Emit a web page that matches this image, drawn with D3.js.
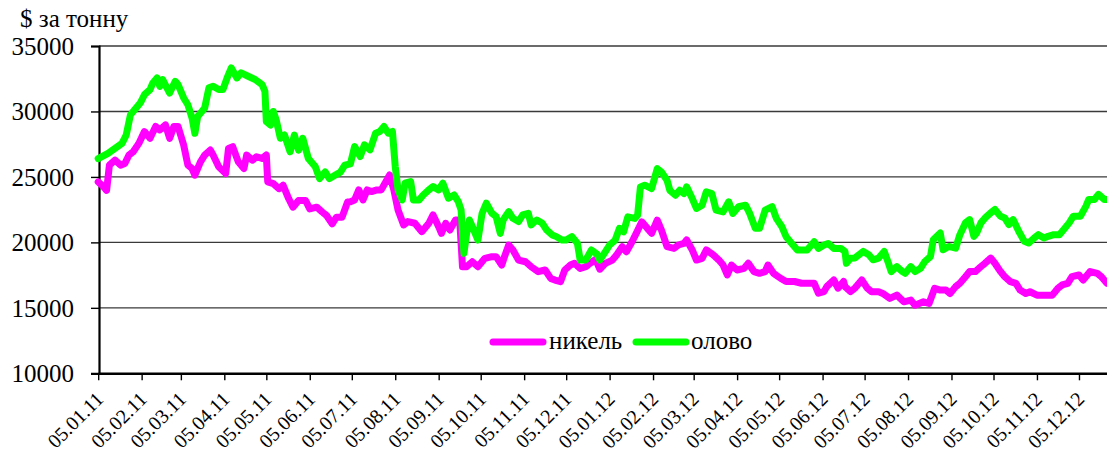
<!DOCTYPE html>
<html>
<head>
<meta charset="utf-8">
<script src="https://cdn.jsdelivr.net/npm/d3@7"></script>
<style>
html,body{margin:0;padding:0;background:#fff;}
svg{display:block;font-family:"Liberation Serif","Times New Roman",serif;}
</style>
</head>
<body>
<svg id="chart" width="1107" height="454"></svg>
<script>
const title = "$ за тонну";
const seriesNames = ["никель", "олово"];
const yTicks = [10000, 15000, 20000, 25000, 30000, 35000];
const xTickLabels = ["05.01.11","05.02.11","05.03.11","05.04.11","05.05.11","05.06.11","05.07.11","05.08.11","05.09.11","05.10.11","05.11.11","05.12.11",
  "05.01.12","05.02.12","05.03.12","05.04.12","05.05.12","05.06.12","05.07.12","05.08.12","05.09.12","05.10.12","05.11.12","05.12.12"];
const dateStart = "2011-01-05", dateEnd = "2012-12-25";

const nickel = [
["2011-01-05",24620],["2011-01-09",24230],["2011-01-11",23970],["2011-01-13",25900],["2011-01-17",26280],["2011-01-21",25900],
["2011-01-24",26020],["2011-01-27",26670],["2011-01-30",26920],["2011-02-03",27560],["2011-02-07",28460],["2011-02-11",27950],
["2011-02-15",28850],["2011-02-18",28590],["2011-02-22",28970],["2011-02-25",27950],["2011-02-28",28850],["2011-03-03",28850],
["2011-03-07",27440],["2011-03-10",25900],["2011-03-13",25640],["2011-03-15",25130],["2011-03-19",26150],["2011-03-22",26670],
["2011-03-26",27050],["2011-03-28",26670],["2011-04-01",25770],["2011-04-06",25260],["2011-04-08",27180],["2011-04-11",27310],
["2011-04-15",26150],["2011-04-19",25640],["2011-04-21",26670],["2011-04-25",26280],["2011-04-28",26540],["2011-05-02",26410],
["2011-05-05",26670],["2011-05-06",24620],["2011-05-10",24490],["2011-05-14",24100],["2011-05-17",24360],["2011-05-21",23330],
["2011-05-24",22690],["2011-05-28",23200],["2011-06-02",23200],["2011-06-05",22560],["2011-06-10",22690],["2011-06-14",22310],
["2011-06-17",22050],["2011-06-21",21410],["2011-06-24",21920],["2011-06-28",21920],["2011-06-29",22200],["2011-07-02",23080],
["2011-07-04",23110],["2011-07-07",23240],["2011-07-10",24010],["2011-07-13",23240],["2011-07-16",24010],["2011-07-19",23880],
["2011-07-23",24010],["2011-07-26",24010],["2011-07-30",24770],["2011-08-01",25150],["2011-08-04",24010],["2011-08-07",22480],
["2011-08-11",21330],["2011-08-14",21590],["2011-08-19",21460],["2011-08-24",20820],["2011-08-29",21460],["2011-09-01",22100],
["2011-09-05",21200],["2011-09-07",20690],["2011-09-10",21460],["2011-09-13",20950],["2011-09-17",21710],["2011-09-20",21710],
["2011-09-22",18140],["2011-09-25",18140],["2011-09-29",18520],["2011-10-03",18140],["2011-10-08",18780],["2011-10-13",18910],
["2011-10-16",18910],["2011-10-20",18270],["2011-10-22",18910],["2011-10-25",19800],["2011-10-28",19420],["2011-11-01",18650],
["2011-11-06",18520],["2011-11-10",18140],["2011-11-15",17760],["2011-11-20",17890],["2011-11-24",17250],["2011-11-27",17120],
["2011-12-01",17000],["2011-12-04",17890],["2011-12-08",18270],["2011-12-11",18400],["2011-12-15",18010],["2011-12-19",18140],
["2011-12-22",18400],["2011-12-26",18700],["2011-12-29",17950],["2012-01-02",18400],["2012-01-07",18650],["2012-01-10",19040],
["2012-01-14",19670],["2012-01-17",19290],["2012-01-21",20050],["2012-01-24",20690],["2012-01-28",21570],["2012-02-01",21070],
["2012-02-04",20690],["2012-02-08",21700],["2012-02-11",20940],["2012-02-15",19670],["2012-02-20",19540],["2012-02-23",19800],
["2012-02-27",19920],["2012-02-29",20180],["2012-03-04",19420],["2012-03-07",18650],["2012-03-11",18780],["2012-03-14",19420],
["2012-03-19",19040],["2012-03-23",18650],["2012-03-26",18270],["2012-03-29",17510],["2012-04-01",18270],["2012-04-05",17890],
["2012-04-10",18020],["2012-04-13",18400],["2012-04-17",17770],["2012-04-21",17640],["2012-04-25",17770],["2012-04-27",18270],
["2012-05-01",17640],["2012-05-06",17260],["2012-05-10",17010],["2012-05-16",17010],["2012-05-21",16880],["2012-05-26",16880],
["2012-05-30",16880],["2012-06-02",16120],["2012-06-06",16240],["2012-06-08",16620],["2012-06-13",17130],["2012-06-16",16500],
["2012-06-20",17010],["2012-06-21",16620],["2012-06-25",16240],["2012-06-28",16490],["2012-07-03",17130],["2012-07-07",16490],
["2012-07-10",16230],["2012-07-15",16230],["2012-07-18",16100],["2012-07-23",15720],["2012-07-28",15970],["2012-08-02",15460],
["2012-08-07",15590],["2012-08-10",15200],["2012-08-16",15460],["2012-08-20",15330],["2012-08-24",16490],["2012-08-28",16360],
["2012-09-01",16360],["2012-09-04",16100],["2012-09-08",16620],["2012-09-11",16870],["2012-09-15",17380],["2012-09-18",17770],
["2012-09-22",17770],["2012-09-26",18150],["2012-09-29",18410],["2012-10-03",18800],["2012-10-06",18410],["2012-10-10",17770],
["2012-10-13",17380],["2012-10-17",17000],["2012-10-21",16870],["2012-10-24",16360],["2012-10-28",16100],["2012-10-31",16230],
["2012-11-05",15970],["2012-11-10",15970],["2012-11-16",15970],["2012-11-20",16490],["2012-11-23",16750],["2012-11-27",16870],
["2012-11-30",17380],["2012-12-05",17510],["2012-12-08",17130],["2012-12-13",17770],["2012-12-18",17640],["2012-12-21",17380],
["2012-12-25",16870]
];

const tin = [
["2011-01-05",26400],["2011-01-12",26800],["2011-01-17",27180],["2011-01-22",27560],["2011-01-25",28200],["2011-01-28",29740],
["2011-01-31",30130],["2011-02-04",30640],["2011-02-07",31280],["2011-02-11",31670],["2011-02-13",32180],["2011-02-16",32560],
["2011-02-18",31920],["2011-02-20",32440],["2011-02-23",31800],["2011-02-25",31410],["2011-03-01",32300],["2011-03-03",32050],
["2011-03-07",31030],["2011-03-10",30510],["2011-03-13",29490],["2011-03-15",28330],["2011-03-17",29620],["2011-03-20",30000],
["2011-03-22",30260],["2011-03-25",31800],["2011-03-28",31920],["2011-04-01",31670],["2011-04-04",31670],["2011-04-07",32560],
["2011-04-10",33330],["2011-04-14",32560],["2011-04-17",32950],["2011-04-22",32690],["2011-04-27",32440],["2011-05-02",32050],
["2011-05-04",31540],["2011-05-05",29230],["2011-05-08",28970],["2011-05-10",30000],["2011-05-12",29360],["2011-05-15",27950],
["2011-05-18",28200],["2011-05-22",26920],["2011-05-25",28200],["2011-05-28",27050],["2011-05-31",27950],["2011-06-04",26410],
["2011-06-09",25770],["2011-06-12",24870],["2011-06-16",25380],["2011-06-19",24870],["2011-06-23",25130],["2011-06-27",25380],
["2011-06-30",25900],["2011-07-04",26000],["2011-07-07",27320],["2011-07-11",26560],["2011-07-14",27450],["2011-07-18",27070],
["2011-07-22",28340],["2011-07-25",28470],["2011-07-28",28850],["2011-07-31",28340],["2011-08-03",28470],["2011-08-05",25790],
["2011-08-07",24010],["2011-08-10",23240],["2011-08-12",24520],["2011-08-16",24650],["2011-08-18",23240],["2011-08-22",23240],
["2011-08-25",23620],["2011-08-29",24010],["2011-09-01",24260],["2011-09-05",24010],["2011-09-08",24520],["2011-09-12",23370],
["2011-09-16",23620],["2011-09-19",23110],["2011-09-21",22480],["2011-09-23",19160],["2011-09-25",20690],["2011-09-27",21710],
["2011-09-30",20950],["2011-10-03",20180],["2011-10-06",22220],["2011-10-09",22990],["2011-10-13",22220],["2011-10-16",21970],
["2011-10-19",20690],["2011-10-21",21710],["2011-10-25",22350],["2011-10-28",21840],["2011-11-01",21590],["2011-11-04",22100],
["2011-11-08",22220],["2011-11-10",21330],["2011-11-14",21710],["2011-11-18",21460],["2011-11-21",20950],["2011-11-25",20570],
["2011-11-28",20440],["2011-12-02",20180],["2011-12-05",20180],["2011-12-09",20440],["2011-12-13",19930],["2011-12-15",18650],
["2011-12-19",18650],["2011-12-23",19420],["2011-12-27",19100],["2011-12-29",18650],["2012-01-02",19290],["2012-01-05",19800],
["2012-01-09",20180],["2012-01-12",21070],["2012-01-15",20810],["2012-01-18",21950],["2012-01-23",21830],["2012-01-25",22080],
["2012-01-27",24240],["2012-01-30",24370],["2012-02-04",24110],["2012-02-08",25630],["2012-02-11",25380],["2012-02-15",24750],
["2012-02-17",23980],["2012-02-21",23600],["2012-02-24",23980],["2012-02-27",23730],["2012-02-29",24240],["2012-03-04",23350],
["2012-03-07",22590],["2012-03-11",22840],["2012-03-14",23860],["2012-03-18",23730],["2012-03-21",22460],["2012-03-26",22330],
["2012-03-30",23100],["2012-04-02",22210],["2012-04-06",22720],["2012-04-11",22840],["2012-04-14",22210],["2012-04-18",21070],
["2012-04-21",21070],["2012-04-25",22460],["2012-04-30",22720],["2012-05-03",21830],["2012-05-07",21190],["2012-05-10",20430],
["2012-05-14",19920],["2012-05-18",19420],["2012-05-21",19420],["2012-05-25",19420],["2012-05-30",20050],["2012-06-02",19540],
["2012-06-06",19800],["2012-06-09",19920],["2012-06-13",19540],["2012-06-18",19540],["2012-06-21",19300],["2012-06-22",18400],
["2012-06-25",18780],["2012-06-28",18800],["2012-07-04",19310],["2012-07-08",19050],["2012-07-11",18670],["2012-07-15",18800],
["2012-07-19",19310],["2012-07-22",18410],["2012-07-24",17770],["2012-07-28",18150],["2012-08-01",17770],["2012-08-03",17640],
["2012-08-07",18150],["2012-08-10",17770],["2012-08-14",18030],["2012-08-17",18540],["2012-08-21",18920],["2012-08-23",20200],
["2012-08-28",20720],["2012-08-30",19440],["2012-09-03",19690],["2012-09-08",19560],["2012-09-11",20590],["2012-09-15",21490],
["2012-09-18",21740],["2012-09-21",20460],["2012-09-23",20720],["2012-09-26",21490],["2012-09-29",21870],["2012-10-03",22260],
["2012-10-06",22510],["2012-10-10",22000],["2012-10-13",21870],["2012-10-16",21360],["2012-10-19",21740],["2012-10-23",20850],
["2012-10-27",20080],["2012-10-30",19950],["2012-11-03",20330],["2012-11-06",20590],["2012-11-10",20330],["2012-11-13",20460],
["2012-11-17",20590],["2012-11-21",20590],["2012-11-24",20970],["2012-11-28",21490],["2012-12-01",22000],["2012-12-06",22000],
["2012-12-10",22770],["2012-12-12",23280],["2012-12-16",23280],["2012-12-19",23670],["2012-12-23",23280],["2012-12-25",23280]
];

const colors = ["#ff00ff", "#00ff00"];
const serif = "'Liberation Serif','Times New Roman',serif";

const svg = d3.select("#chart");
const plotLeft = 99, plotRight = 1107, plotTop = 46, plotBottom = 373.3;
const parseISO = d3.utcParse("%Y-%m-%d");
const parseTick = d3.utcParse("%d.%m.%y");

const x = d3.scaleUtc().domain([parseISO(dateStart), parseISO(dateEnd)]).range([plotLeft - 0.8, plotRight]);
const y = d3.scaleLinear().domain([10000, 35000]).range([plotBottom, plotTop]);

// gridlines
svg.append("g").selectAll("line").data(yTicks.filter(v => v > 10000)).join("line")
  .attr("x1", plotLeft).attr("x2", plotRight)
  .attr("y1", d => y(d)).attr("y2", d => y(d))
  .attr("stroke", "#3a3a3a").attr("stroke-width", 1.4);

// y axis
const yAxis = d3.axisLeft(y).tickValues(yTicks).tickSize(8).tickPadding(17).tickFormat(d3.format("d"));
const gy = svg.append("g").attr("transform", `translate(${plotLeft},0)`).call(yAxis);
gy.attr("font-family", serif);
gy.select(".domain").attr("stroke", "#000").attr("stroke-width", 2.2);
gy.selectAll(".tick line").attr("stroke", "#000").attr("stroke-width", 1.4);
gy.selectAll(".tick text").attr("font-size", 25).attr("fill", "#000").attr("dy", "0.34em");

// x axis
const tickDates = xTickLabels.map(parseTick);
const xAxis = d3.axisBottom(x).tickValues(tickDates).tickSize(7).tickSizeOuter(0).tickFormat((d, i) => xTickLabels[i]);
const gx = svg.append("g").attr("transform", `translate(0,${plotBottom})`).call(xAxis);
gx.attr("font-family", serif);
gx.select(".domain").attr("stroke", "#000").attr("stroke-width", 2.6);
gx.selectAll(".tick line").attr("stroke", "#000").attr("stroke-width", 1.4);
gx.selectAll(".tick text")
  .attr("font-size", 20).attr("fill", "#000")
  .attr("text-anchor", "end")
  .attr("dy", null).attr("y", 0)
  .attr("transform", "translate(6,27) rotate(-45)");

// lines
const line = d3.line().x(d => x(parseISO(d[0]))).y(d => y(d[1]));
[nickel, tin].forEach((s, i) => {
  svg.append("path").datum(s).attr("d", line)
    .attr("fill", "none").attr("stroke", colors[i]).attr("stroke-width", 7)
    .attr("stroke-linejoin", "round").attr("stroke-linecap", "round");
});

// title
svg.append("text").attr("x", 20).attr("y", 27).attr("font-family", serif).attr("font-size", 25).attr("fill", "#000").text(title);

// legend
const legendItems = [{x: 493, tx: 549}, {x: 636, tx: 691}];
legendItems.forEach((p, i) => {
  svg.append("line").attr("x1", p.x).attr("x2", p.x + 50).attr("y1", 342).attr("y2", 342)
    .attr("stroke", colors[i]).attr("stroke-width", 7).attr("stroke-linecap", "round");
  svg.append("text").attr("x", p.tx).attr("y", 349).attr("font-family", serif).attr("font-size", 25).attr("fill", "#000").text(seriesNames[i]);
});
</script>
</body>
</html>
